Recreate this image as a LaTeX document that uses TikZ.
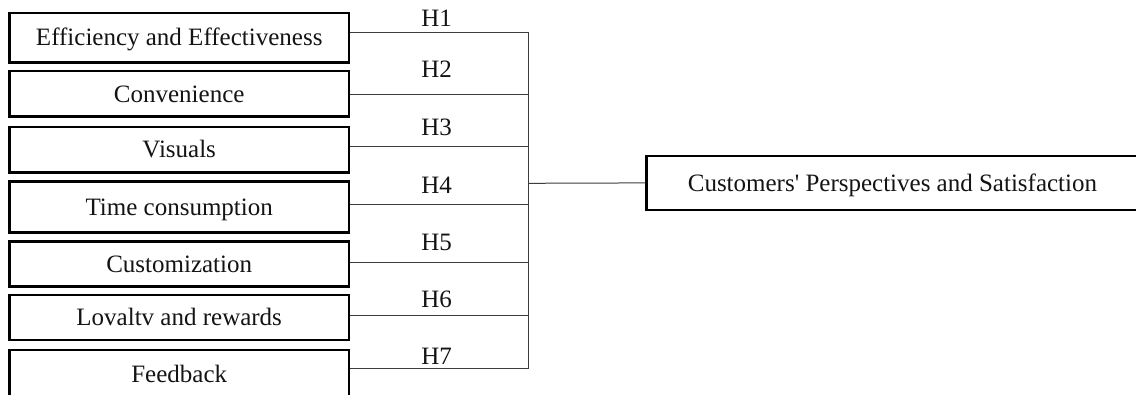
\documentclass[tikz,border=0pt]{standalone}
\usepackage{fontspec}
\setmainfont{Liberation Serif}
\definecolor{conn}{RGB}{60,60,60}
\definecolor{ink}{RGB}{20,20,20}
\begin{document}
\begin{tikzpicture}[x=0.75pt,y=-0.75pt,
  txt/.style={font=\fontsize{18.75pt}{22pt}\selectfont, text=ink},
  leftbox/.style={txt, draw=black, line width=1.8pt, inner sep=0pt,
    minimum width=254.8pt, text height=12.4pt, text depth=0pt},
  hlabel/.style={txt, anchor=base, inner sep=0pt},
  wire/.style={draw=conn, line width=0.75pt}]
\useasboundingbox (0,0) rectangle (1136,394);
\clip (0,0) rectangle (1136,394);
\fill[white] (0,0) rectangle (1136,394);

\node[leftbox, minimum height=37.2pt] (b1) at (179.2,37.5) {Efficiency and Effectiveness};
\node[leftbox, minimum height=34.3pt] (b2) at (179.2,93.8) {Convenience};
\node[leftbox, minimum height=34.2pt] (b3) at (179.2,149.5) {Visuals};
\node[leftbox, minimum height=38.0pt] (b4) at (179.2,207.0) {Time consumption};
\node[leftbox, minimum height=33.5pt] (b5) at (179.2,264.0) {Customization};
\node[leftbox, minimum height=33.75pt] (b6) at (179.2,317.2) {Lovaltv and rewards};
\node[leftbox, minimum height=37.2pt] (b7) at (179.2,374.5) {Feedback};

\node[leftbox, minimum width=385pt, minimum height=40.7pt] (t) at (903.35,182.9) {\hspace*{-16.3pt}Customers\textquotesingle{} Perspectives and Satisfaction};

\coordinate (j1) at (528.7,32.7);
\coordinate (j2) at (528.7,94.3);
\coordinate (j3) at (528.7,146.7);
\coordinate (j4) at (528.7,204.0);
\coordinate (j5) at (528.7,262.3);
\coordinate (j6) at (528.7,315.7);
\coordinate (j7) at (528.7,368.3);
\coordinate (jc) at (528.7,183.3);

\foreach \i in {1,...,7} {
  \draw[wire] (b\i.east |- j\i) -- (j\i);
}
\draw[wire] (j1) -- (j7);
\draw[wire] (jc) -- (t.west);

\node[hlabel] (h1) at (436.7,26.0) {H1};
\node[hlabel] (h2) at (436.7,77.3) {H2};
\node[hlabel] (h3) at (436.7,135.0) {H3};
\node[hlabel] (h4) at (436.7,193.3) {H4};
\node[hlabel] (h5) at (436.7,250.7) {H5};
\node[hlabel] (h6) at (436.7,307.3) {H6};
\node[hlabel] (h7) at (436.7,364.0) {H7};
\end{tikzpicture}
\end{document}
